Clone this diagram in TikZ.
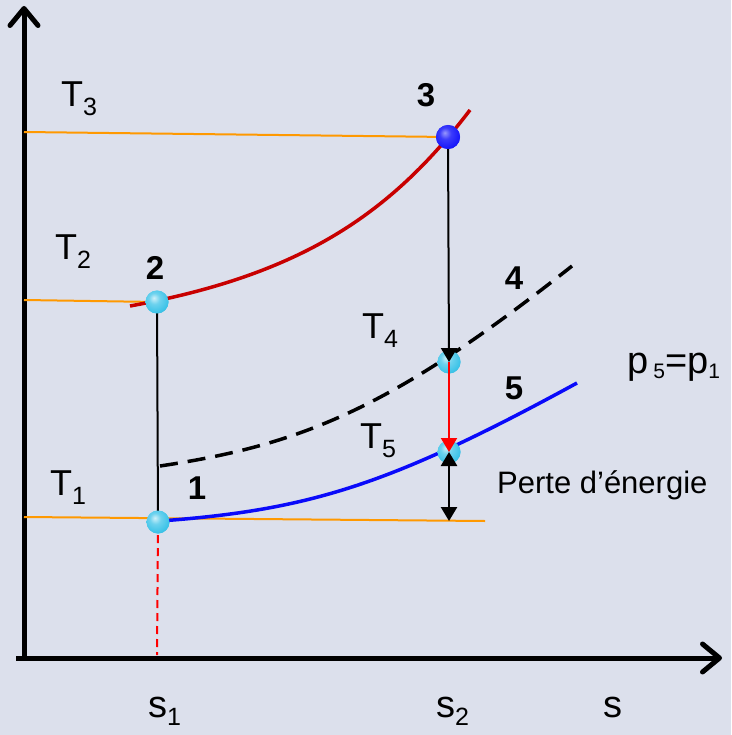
\documentclass[tikz,border=0pt]{standalone}
\usepackage{fontspec}
\setmainfont{Liberation Sans}
\usetikzlibrary{arrows.meta}
\definecolor{bg}{RGB}{220,224,236}
\definecolor{isoline}{RGB}{255,153,0}
\definecolor{curvered}{RGB}{200,0,0}
\definecolor{curveblue}{RGB}{10,10,250}
\definecolor{ballcyan}{RGB}{60,195,232}
\definecolor{ballblue}{RGB}{25,25,250}
\pgfdeclareradialshading{cball}{\pgfqpoint{-7bp}{9bp}}{color(0bp)=(ballcyan!25!white); color(12bp)=(ballcyan!75!white); color(28bp)=(ballcyan); color(45bp)=(ballcyan!85!black); color(70bp)=(ballcyan!60!black)}
\pgfdeclareradialshading{bball}{\pgfqpoint{-7bp}{9bp}}{color(0bp)=(ballblue!45!white); color(12bp)=(ballblue!85!white); color(28bp)=(ballblue); color(45bp)=(ballblue!85!black); color(70bp)=(ballblue!60!black)}
\newcommand\mysub[2][9pt]{\raisebox{-#1}{\fontsize{25}{25}\selectfont #2}}
\begin{document}
\begin{tikzpicture}[x=1pt,y=-1pt,
  axis/.style={line width=5pt,-{Straight Barb[round,length=17pt,width=28pt]}},
  iso/.style={isoline,line width=2pt},
  thinline/.style={black,line width=2pt},
  ball/.style={circle,minimum size=23pt,inner sep=0pt,shading=cball},
  bigball/.style={circle,minimum size=24pt,inner sep=0pt,shading=bball},
  tip/.style={-{Triangle[length=14pt,width=16pt]}},
  numlabel/.style={font=\fontsize{33}{33}\selectfont\bfseries},
  tlabel/.style={anchor=base west,inner sep=0pt,font=\fontsize{36}{36}\selectfont},
  slabel/.style={anchor=base west,inner sep=0pt,font=\fontsize{38}{38}\selectfont}
]
\useasboundingbox (0,0) rectangle (731,735);
\fill[bg] (0,0) rectangle (731,735);

% coordinates
\coordinate (o) at (24,658);
\coordinate (ytop) at (24,6);
\coordinate (xl) at (16,658);
\coordinate (xr) at (722,658);
\coordinate (t3l) at (24,132);
\coordinate (t2l) at (24,300);
\coordinate (t1l) at (24,517);
\coordinate (t1r) at (485,521);
\coordinate (s1b) at (157,655);
\coordinate (lossb) at (449,521);

% points (placed first so their centres can be used)
\node[bigball] (p3) at (448,137) {};
\node[ball] (p2) at (157,302) {};
\node[ball] (p4) at (449,362) {};
\node[ball] (p5) at (449,452) {};
\node[ball] (p1) at (158,522) {};

% axes
\draw[axis] (o) -- (ytop);
\draw[axis] (xl) -- (xr);

% isotherms
\draw[iso] (t3l) -- (p3.center);
\draw[iso] (t2l) -- (p2.center);
\draw[iso] (t1l) -- (t1r);

% curves
\draw[curvered,line width=3.5pt] (130,306) .. controls (300,275) and (390,215) .. (470,110);
\draw[black,line width=3.5pt,dash pattern=on 18pt off 10pt] (160,466) .. controls (300,445) and (390,410) .. (572,266);
\draw[curveblue,line width=3.5pt] (160,521) .. controls (310,510) and (390,485) .. (577,383);

% vertical lines
\draw[thinline] (p2.center) -- (p1.center);
\draw[red,line width=2pt,dash pattern=on 8pt off 5pt] (p1.center) -- (s1b);
\draw[thinline] (p3.center) -- (p4.center);

% balls on top
\node[bigball] at (p3) {};
\node[ball] at (p2) {};
\node[ball] at (p4) {};
\node[ball] at (p5) {};
\node[ball] at (p1) {};

% arrows
\draw[thinline,tip] (p4.north) ++(0,-2) -- (p4.center);
\draw[red,line width=2pt,tip] (p4.center) -- (p5.center);
\draw[black,line width=2.5pt,{Triangle[length=14pt,width=16pt]}-{Triangle[length=14pt,width=16pt]}] (p5.center) -- (lossb);

% labels
\node[numlabel] (l3) at (426,95) {3};
\node[numlabel] (l2) at (155,268) {2};
\node[numlabel] (l4) at (514,278) {4};
\node[numlabel] (l5) at (514,388) {5};
\node[numlabel] (l1) at (197,488) {1};
\node[tlabel] (lt3) at (61,107) {T\mysub{3}};
\node[tlabel] (lt2) at (55,259) {T\mysub{2}};
\node[tlabel] (lt4) at (362,338) {T\mysub{4}};
\node[tlabel] (lt5) at (360,448) {T\mysub{5}};
\node[tlabel] (lt1) at (50,495) {T\mysub{1}};
\node[anchor=base west,inner sep=0pt,font=\fontsize{38}{38}\selectfont] (lp) at (627,373)
  {p\hspace{5pt}\raisebox{-5pt}{\fontsize{21}{21}\selectfont 5}=p\raisebox{-5pt}{\fontsize{21}{21}\selectfont 1}};
\node[anchor=base west,inner sep=0pt,font=\fontsize{31}{31}\selectfont] (lperte) at (497,493) {Perte d’énergie};
\node[slabel] (ls1) at (148,717) {s\mysub[8pt]{1}};
\node[slabel] (ls2) at (436,717) {s\mysub[8pt]{2}};
\node[slabel] (ls) at (603,717) {s};
\end{tikzpicture}
\end{document}
